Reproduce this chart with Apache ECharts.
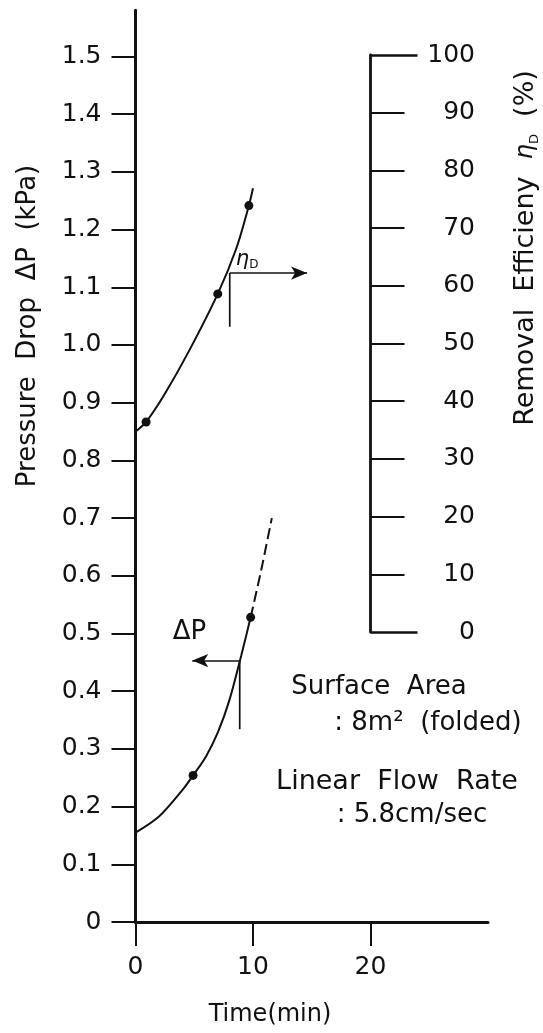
<!DOCTYPE html>
<html>
<head>
<meta charset="utf-8">
<script src="https://cdn.jsdelivr.net/npm/echarts@6.0.0/dist/echarts.min.js"></script>
<style>
html,body{margin:0;padding:0;background:#fff;}
#chart{width:543px;height:1033px;}
</style>
</head>
<body>
<div id="chart"></div>
<script>
// ---- data ----
const timeTicks = [0, 10, 20];
const dpTicks = [0, 0.1, 0.2, 0.3, 0.4, 0.5, 0.6, 0.7, 0.8, 0.9, 1.0, 1.1, 1.2, 1.3, 1.4, 1.5];
const etaTicks = [0, 10, 20, 30, 40, 50, 60, 70, 80, 90, 100];
const etaInnerTicks = [10, 20, 30, 40, 50, 60, 70, 80, 90];
const etaEndTicks = [0, 100];

// pressure drop curve (solid) and its dashed extension
const dpTime = [0, 2, 4, 4.9, 6, 7, 8, 9, 9.8];
const dpValue = [0.155, 0.183, 0.229, 0.254, 0.287, 0.328, 0.385, 0.462, 0.528];
const dpDashTime = [9.8, 10.7, 11.6];
const dpDashValue = [0.528, 0.61, 0.70];
const dpPointTime = [4.9, 9.8];
const dpPointValue = [0.254, 0.528];

// removal efficiency curve
const etaTime = [0, 0.9, 2.5, 4.5, 7.0, 8.6, 9.65, 10.0];
const etaValue = [34.7, 36.4, 41.3, 48.5, 58.6, 66.6, 73.9, 76.9];
const etaPointTime = [0.9, 7.0, 9.65];
const etaPointValue = [36.4, 58.6, 73.9];

// annotation leaders (time, value)
const dpLeader = [[8.87, 0.453], [8.87, 0.334]];
const dpArrow = [[8.87, 0.453], [4.83, 0.453]];
const dpLabelAt = [4.6, 0.502];
const etaLeader = [[8.02, 62.2], [8.02, 52.9]];
const etaArrow = [[8.02, 62.2], [14.6, 62.2]];
const etaLabelAt = [9.5, 64.6];

const zip = (a, b) => a.map((v, i) => [v, b[i]]);
const INK = '#111';
const FONT = '"DejaVu Sans"';

const chart = echarts.init(document.getElementById('chart'), null, {renderer: 'canvas'});

const option = {
  animation: false,
  backgroundColor: '#fff',
  grid: [
    {left: 135.5, right: 55, top: 10.3, bottom: 111, containLabel: false, outerBoundsMode: 'none'},
    {left: 135.5, right: 55, top: 55, bottom: 401, containLabel: false, outerBoundsMode: 'none'}
  ],
  xAxis: [
    {
      gridIndex: 0, type: 'value', min: 0, max: 30, interval: 10,
      axisLine: {onZero: false, lineStyle: {color: INK, width: 3}},
      axisTick: {customValues: timeTicks, length: 24, lineStyle: {color: INK, width: 2}},
      axisLabel: {customValues: timeTicks, margin: 33, fontSize: 25, fontFamily: FONT, color: INK},
      splitLine: {show: false}
    },
    {gridIndex: 1, type: 'value', min: 0, max: 30, interval: 10, show: false, splitLine: {show: false}}
  ],
  yAxis: [
    {
      gridIndex: 0, type: 'value', min: 0, max: 1.58, interval: 0.1, position: 'left',
      axisLine: {show: true, onZero: false, lineStyle: {color: INK, width: 3}},
      axisTick: {show: true, customValues: dpTicks, length: 24, lineStyle: {color: INK, width: 2}},
      axisLabel: {customValues: dpTicks, margin: 34, fontSize: 25, fontFamily: FONT, color: INK,
        formatter: v => (v === 0 ? '0' : v.toFixed(1))},
      splitLine: {show: false}
    },
    {
      gridIndex: 1, type: 'value', min: 0, max: 100, interval: 10, position: 'right', offset: -117.5,
      axisLine: {show: true, onZero: false, lineStyle: {color: INK, width: 2.8}},
      axisTick: {show: true, customValues: etaInnerTicks, length: 34, lineStyle: {color: INK, width: 1.8}},
      axisLabel: {customValues: etaTicks, margin: 104.5, align: 'right', fontSize: 25, fontFamily: FONT, color: INK},
      splitLine: {show: false}
    },
    {
      gridIndex: 1, type: 'value', min: 0, max: 100, interval: 10, position: 'right', offset: -117.5,
      axisLine: {show: false, onZero: false},
      axisTick: {show: true, customValues: etaEndTicks, length: 47, lineStyle: {color: INK, width: 2.6}},
      axisLabel: {show: false},
      splitLine: {show: false}
    }
  ],
  series: [
    {
      name: 'ΔP', type: 'line', xAxisIndex: 0, yAxisIndex: 0,
      data: zip(dpTime, dpValue), smooth: 0.3, showSymbol: false,
      lineStyle: {color: INK, width: 2}
    },
    {
      name: 'ΔP extrapolated', type: 'line', xAxisIndex: 0, yAxisIndex: 0,
      data: zip(dpDashTime, dpDashValue), smooth: 0.3, showSymbol: false,
      lineStyle: {color: INK, width: 2, type: [11, 5]}
    },
    {
      name: 'ΔP measured', type: 'scatter', xAxisIndex: 0, yAxisIndex: 0,
      data: zip(dpPointTime, dpPointValue), symbol: 'circle', symbolSize: 9,
      itemStyle: {color: INK, opacity: 1}
    },
    {
      name: 'ΔP leader', type: 'line', xAxisIndex: 0, yAxisIndex: 0,
      data: dpLeader, showSymbol: false, lineStyle: {color: INK, width: 1.7},
      markLine: {
        silent: true, symbol: ['none', 'arrow'], symbolSize: [10, 16],
        lineStyle: {color: INK, width: 1.7, type: 'solid'}, label: {show: false},
        data: [[{coord: dpArrow[0]}, {coord: dpArrow[1]}]]
      }
    },
    {
      name: 'ΔP label', type: 'scatter', xAxisIndex: 0, yAxisIndex: 0,
      data: [dpLabelAt], symbolSize: 0, itemStyle: {color: INK, opacity: 1},
      label: {show: true, position: 'inside', formatter: 'ΔP', fontSize: 26, fontFamily: FONT,
        color: INK, textBorderWidth: 0}
    },
    {
      name: 'ηD', type: 'line', xAxisIndex: 1, yAxisIndex: 1,
      data: zip(etaTime, etaValue), smooth: 0.3, showSymbol: false,
      lineStyle: {color: INK, width: 2}
    },
    {
      name: 'ηD measured', type: 'scatter', xAxisIndex: 1, yAxisIndex: 1,
      data: zip(etaPointTime, etaPointValue), symbol: 'circle', symbolSize: 9,
      itemStyle: {color: INK, opacity: 1}
    },
    {
      name: 'ηD leader', type: 'line', xAxisIndex: 1, yAxisIndex: 1,
      data: etaLeader, showSymbol: false, lineStyle: {color: INK, width: 1.7},
      markLine: {
        silent: true, symbol: ['none', 'arrow'], symbolSize: [10, 16],
        lineStyle: {color: INK, width: 1.7, type: 'solid'}, label: {show: false},
        data: [[{coord: etaArrow[0]}, {coord: etaArrow[1]}]]
      }
    },
    {
      name: 'ηD label', type: 'scatter', xAxisIndex: 1, yAxisIndex: 1,
      data: [etaLabelAt], symbolSize: 0, itemStyle: {color: INK, opacity: 1},
      label: {
        show: true, position: 'inside', formatter: '{e|η}{d|D}', textBorderWidth: 0,
        rich: {
          e: {fontSize: 21, fontStyle: 'italic', fontFamily: FONT, color: INK, lineHeight: 24, textBorderWidth: 0},
          d: {fontSize: 12, fontFamily: FONT, color: INK, verticalAlign: 'bottom', lineHeight: 12, textBorderWidth: 0}
        }
      }
    }
  ],
  graphic: [
    {
      type: 'text', x: 28, y: 326, rotation: Math.PI / 2,
      style: {text: 'Pressure  Drop  ΔP  (kPa)', font: '26px ' + FONT, fill: INK, align: 'center', verticalAlign: 'middle'}
    },
    {
      type: 'text', x: 526, y: 248, rotation: Math.PI / 2,
      style: {
        text: '{t|Removal  Efficieny  }{e|η}{d|D}{t|  (%)}',
        align: 'center', verticalAlign: 'middle',
        rich: {
          t: {fontSize: 27, fontFamily: FONT, fill: INK, lineHeight: 30},
          e: {fontSize: 24, fontStyle: 'italic', fontFamily: FONT, fill: INK, lineHeight: 30},
          d: {fontSize: 13, fontFamily: FONT, fill: INK, verticalAlign: 'bottom', lineHeight: 14}
        }
      }
    },
    {
      type: 'text', x: 270, y: 1015,
      style: {text: 'Time(min)', font: '24px ' + FONT, fill: INK, align: 'center', verticalAlign: 'middle'}
    },
    {
      type: 'text', x: 379, y: 687,
      style: {text: 'Surface  Area', font: '26px ' + FONT, fill: INK, align: 'center', verticalAlign: 'middle'}
    },
    {
      type: 'text', x: 428, y: 723,
      style: {text: ': 8m²  (folded)', font: '26px ' + FONT, fill: INK, align: 'center', verticalAlign: 'middle'}
    },
    {
      type: 'text', x: 397, y: 782,
      style: {text: 'Linear  Flow  Rate', font: '27px ' + FONT, fill: INK, align: 'center', verticalAlign: 'middle'}
    },
    {
      type: 'text', x: 412, y: 815,
      style: {text: ': 5.8cm/sec', font: '26px ' + FONT, fill: INK, align: 'center', verticalAlign: 'middle'}
    }
  ]
};

chart.setOption(option);
</script>
</body>
</html>
